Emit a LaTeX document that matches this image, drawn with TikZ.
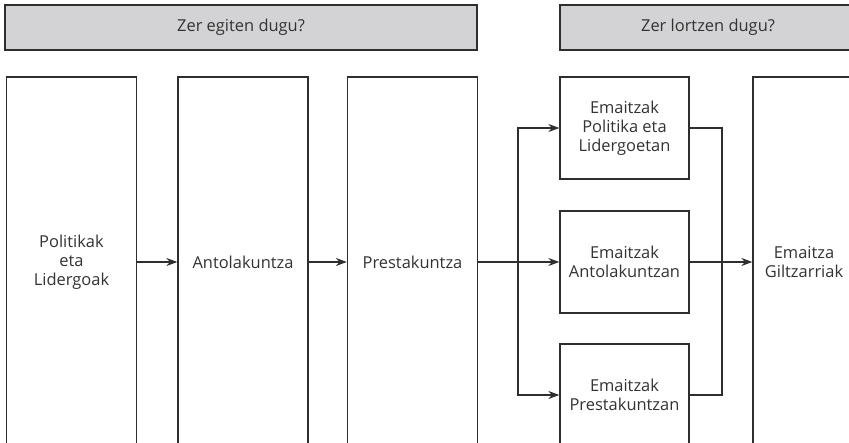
\documentclass[tikz,border=0pt]{standalone}
\usepackage{fontspec}
\setmainfont{Open Sans}
\usetikzlibrary{arrows.meta}
\begin{document}
\begin{tikzpicture}[x=1bp, y=-1bp,
  font=\fontsize{16.5}{19}\selectfont,
  box/.style={draw=edgecol, line width=1.3bp, fill=white, align=center, inner sep=0pt, text=txtcol},
  tallbox/.style={box, minimum width=130bp, minimum height=370bp},
  smallbox/.style={box, minimum width=129bp, minimum height=102bp},
  headbox/.style={draw=edgecol, line width=1.5bp, fill=headcol, minimum height=45bp, inner sep=0pt, text=txtcol},
  link/.style={draw=edgecol, line width=1.3bp},
  arr/.style={link, -{Stealth[length=11bp, width=8bp]}}]
\definecolor{edgecol}{HTML}{2E2E2E}
\definecolor{txtcol}{HTML}{333333}
\definecolor{headcol}{HTML}{D3D3D5}
\useasboundingbox (0,0) rectangle (849,443);
\clip (0,0) rectangle (849,443);
% headers
\node[headbox, minimum width=472bp] (doH) at (241,27.5) {Zer egiten dugu?};
\node[headbox, minimum width=296bp] (getH) at (708,27.5) {Zer lortzen dugu?};
% what we do
\node[tallbox] (pol) at (71.5,262) {Politikak\\eta\\Lidergoak};
\node[tallbox] (ant) at (243,262) {Antolakuntza};
\node[tallbox] (pre) at (412.5,262) {Prestakuntza};
% what we get
\node[smallbox] (emP) at (624.5,128) {Emaitzak\\Politika eta\\Lidergoetan};
\node[smallbox] (emA) at (624.5,262) {Emaitzak\\Antolakuntzan};
\node[smallbox] (emR) at (624.5,395) {Emaitzak\\Prestakuntzan};
\node[box, minimum width=102bp, minimum height=370bp] (gilt) at (804,262) {Emaitza\\Giltzarriak};
% connectors
\coordinate (split) at (518,262);
\coordinate (join) at (722,262);
\draw[arr] (pol.east) -- (ant.west);
\draw[arr] (ant.east) -- (pre.west);
\draw[arr] (pre.east) -- (emA.west);
\draw[arr] (split) |- (emP.west);
\draw[arr] (split) |- (emR.west);
\draw[link] (emP.east) -| (join);
\draw[link] (emR.east) -| (join);
\draw[arr] (emA.east) -- (gilt.west);
\end{tikzpicture}
\end{document}
